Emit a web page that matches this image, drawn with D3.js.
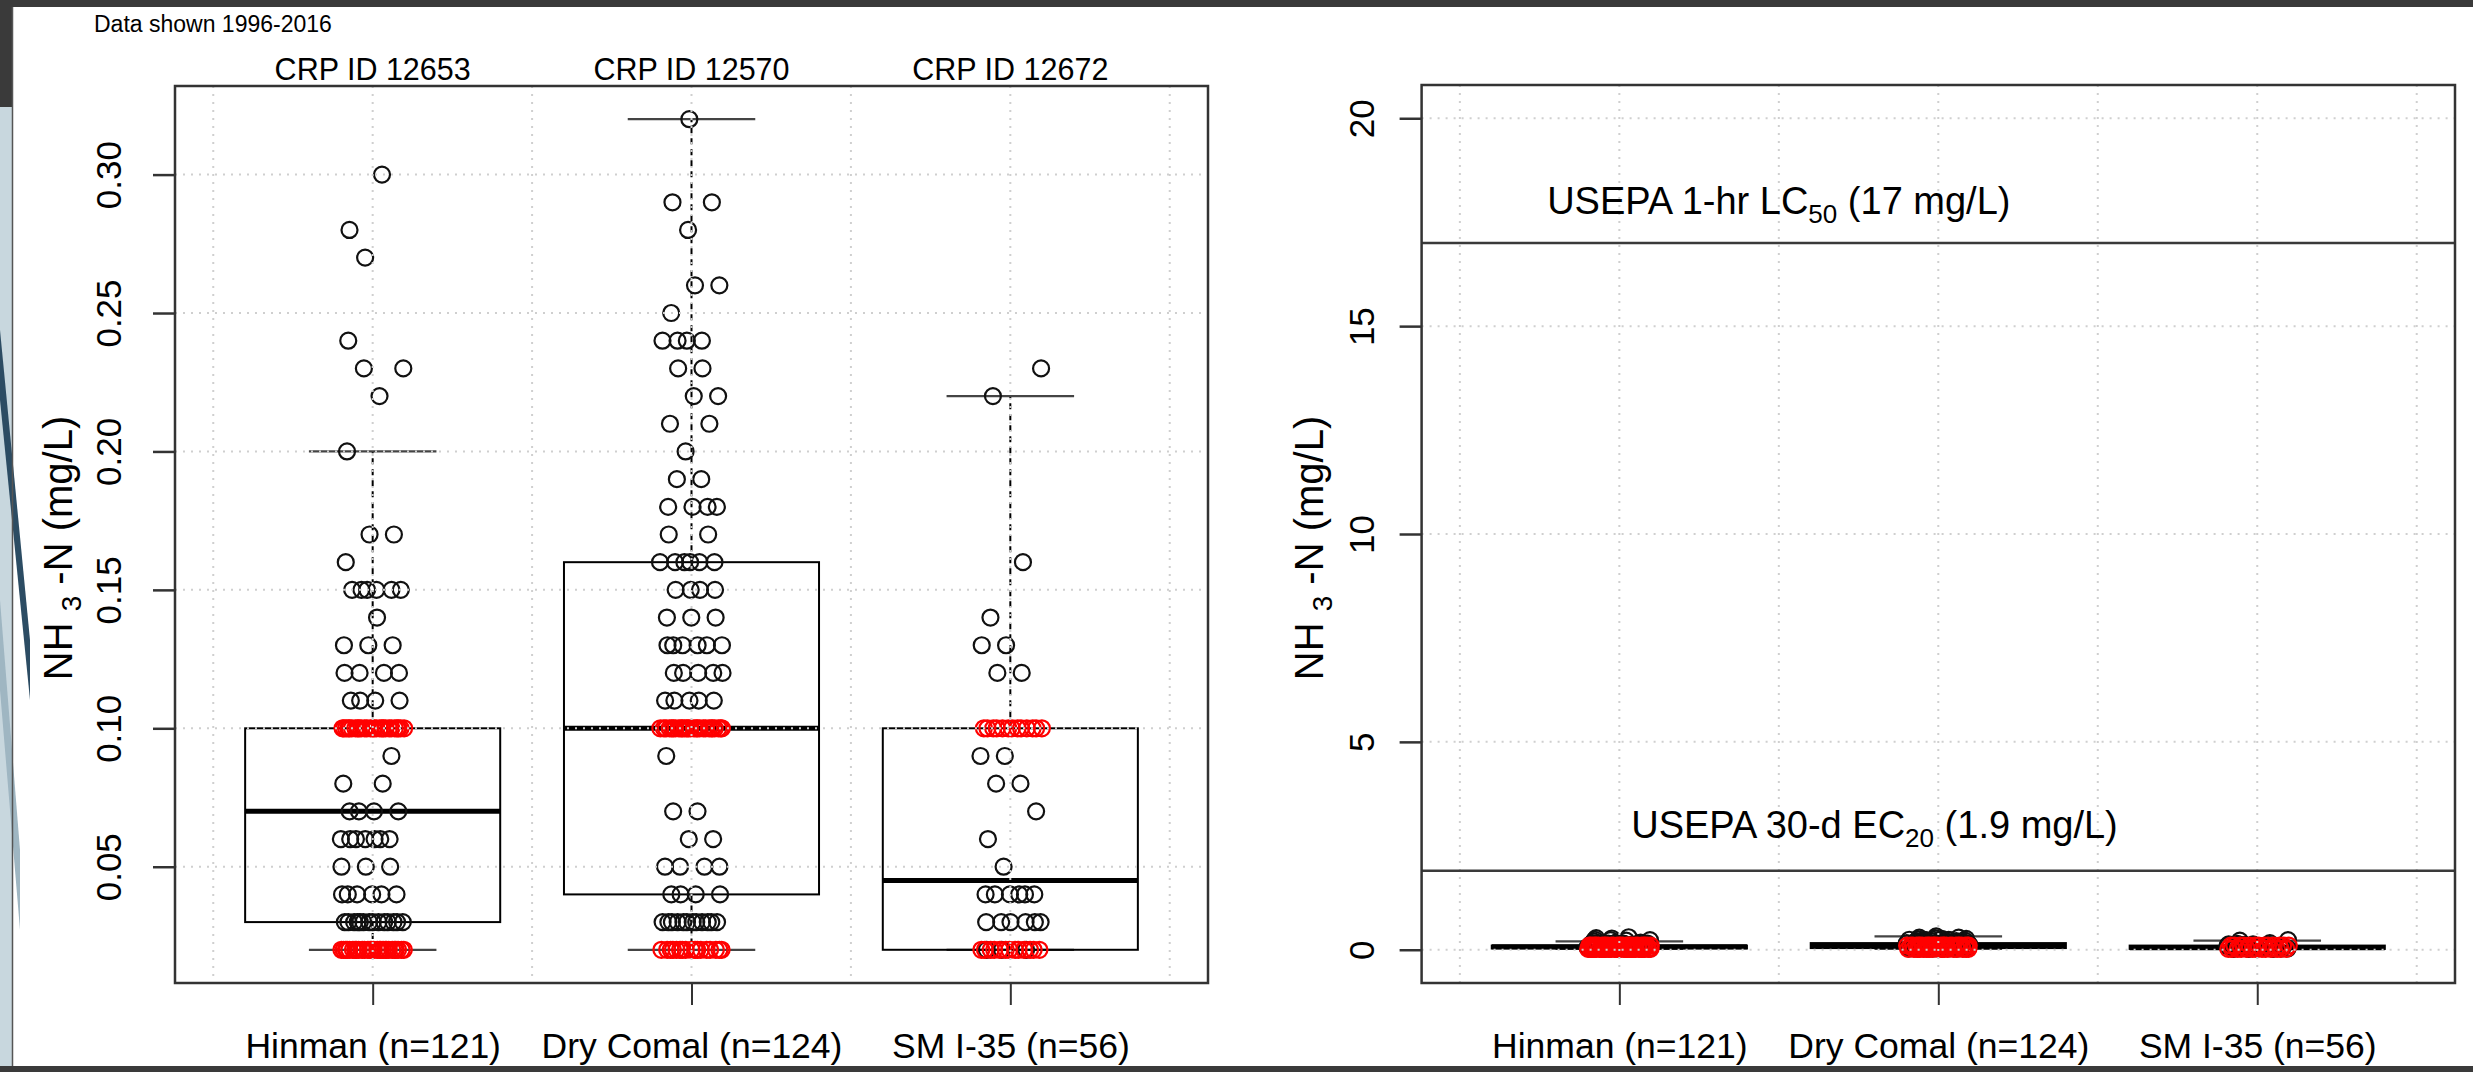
<!DOCTYPE html>
<meta charset="utf-8">
<head>
<script src="https://cdn.jsdelivr.net/npm/d3@7"></script>
<style>
  body { margin: 0; background: #fff; }
  svg text { font-family: "Liberation Sans", Arial, sans-serif; fill: #000; }
</style>
</head>
<body>
<div id="chart"></div>
<script>

// ---- data ----
var sites = ["Hinman (n=121)", "Dry Comal (n=124)", "SM I-35 (n=56)"];
var crpIds = ["CRP ID 12653", "CRP ID 12570", "CRP ID 12672"];

// [value mg/L, count] ; black = measured, red = at reporting limit
var hinmanBlack = [[0.03,14],[0.04,6],[0.05,3],[0.06,7],[0.07,4],[0.08,2],[0.09,1],
  [0.11,4],[0.12,4],[0.13,3],[0.14,1],[0.15,6],[0.16,1],[0.17,2],[0.20,1],[0.22,1],
  [0.23,2],[0.24,1],[0.27,1],[0.28,1],[0.30,1]];
var hinmanRed = [[0.02,28],[0.10,27]];

var dryComalBlack = [[0.03,12],[0.04,4],[0.05,4],[0.06,2],[0.07,2],[0.09,1],
  [0.11,5],[0.12,5],[0.13,6],[0.14,3],[0.15,4],[0.16,6],[0.17,2],[0.18,4],[0.19,2],
  [0.20,1],[0.21,2],[0.22,2],[0.23,2],[0.24,4],[0.25,1],[0.26,2],[0.28,1],[0.29,2],[0.32,1]];
var dryComalRed = [[0.02,17],[0.10,27]];

var smBlack = [[0.02,3],[0.03,6],[0.04,6],[0.05,1],[0.06,1],[0.07,1],[0.08,2],[0.09,2],
  [0.12,2],[0.13,2],[0.14,1],[0.16,1],[0.22,1],[0.23,1]];
var smRed = [[0.02,13],[0.10,13]];

var leftTicks = [0.05, 0.10, 0.15, 0.20, 0.25, 0.30];
var rightTicks = [0, 5, 10, 15, 20];
var refLines = [17, 1.9];

// ---- layout ----
var W = 2473, H = 1072;
var groups = [
  {black: hinmanBlack, red: hinmanRed},
  {black: dryComalBlack, red: dryComalRed},
  {black: smBlack, red: smRed}
];

function expand(pairs) {
  var out = [];
  pairs.forEach(function(p) { for (var i = 0; i < p[1]; i++) out.push(p[0]); });
  return out;
}

// Tukey five-number summary as R's boxplot uses it
function fivenum(x) {
  var s = x.slice().sort(d3.ascending), n = s.length;
  var n4 = Math.floor((n + 3) / 2) / 2;
  return [1, n4, (n + 1) / 2, n + 1 - n4, n].map(function(v) {
    return 0.5 * (s[Math.floor(v) - 1] + s[Math.ceil(v) - 1]);
  });
}

groups.forEach(function(g, i) {
  g.pos = i + 1;
  g.all = expand(g.black).concat(expand(g.red));
  var f = fivenum(g.all);
  var iqr = f[3] - f[1];
  g.q1 = f[1]; g.med = f[2]; g.q3 = f[3];
  g.lo = d3.min(g.all.filter(function(v) { return v >= f[1] - 1.5 * iqr; }));
  g.hi = d3.max(g.all.filter(function(v) { return v <= f[3] + 1.5 * iqr; }));
  // points spread around the box centre: fixed golden-ratio steps within each row
  g.pts = [];
  function addRow(pairs, red) {
    pairs.forEach(function(p) {
      var seed = (Math.round(p[0] * 100) * 0.7548776 + i * 0.31 + (red ? 0.5 : 0)) % 1;
      for (var k = 0; k < p[1]; k++) {
        var fr = (seed + k * 0.6180339887) % 1;
        g.pts.push({v: p[0], red: red, dx: (fr * 2 - 1) * 0.1});
      }
    });
  }
  addRow(g.black, false);
  addRow(g.red, true);
});

var svg = d3.select("#chart").append("svg")
  .attr("width", W)
  .attr("height", H);

svg.append("rect").attr("width", W).attr("height", H).attr("fill", "#fff");

// slide frame around the picture
var frame = svg.append("g");
frame.append("rect").attr("x", 0).attr("y", 0).attr("width", 12).attr("height", H).attr("fill", "#c8d7de");
frame.append("path").attr("d", "M0,330 L30,640 L30,700 L0,400Z").attr("fill", "#2c4c63");
frame.append("path").attr("d", "M0,600 L20,850 L20,930 L0,690Z").attr("fill", "#9fb6c2");
frame.append("rect").attr("x", 0).attr("y", 0).attr("width", 12).attr("height", 107).attr("fill", "#3a3a3a");
frame.append("rect").attr("x", 0).attr("y", 0).attr("width", W).attr("height", 7).attr("fill", "#3a3a3a");
frame.append("rect").attr("x", 0).attr("y", 1066).attr("width", W).attr("height", 6).attr("fill", "#3a3a3a");
frame.append("line").attr("x1", 12.5).attr("x2", 12.5).attr("y1", 7).attr("y2", 1066)
  .attr("stroke", "#555").attr("stroke-width", 1.5);

function drawPanel(cfg) {
  var x = d3.scaleLinear().domain([0.38, 3.62]).range([cfg.x0, cfg.x1]);
  var y = d3.scaleLinear().domain(cfg.domain).range([cfg.y1, cfg.y0]);
  var g = svg.append("g");
  var bw = x(0.4) - x(0);

  var box = g.selectAll(".box").data(groups).enter().append("g");
  // whiskers
  box.append("line")
    .attr("x1", function(d) { return x(d.pos); }).attr("x2", function(d) { return x(d.pos); })
    .attr("y1", function(d) { return y(d.q3); }).attr("y2", function(d) { return y(d.hi); })
    .attr("stroke", "#000").attr("stroke-width", 2).attr("stroke-dasharray", "6,5");
  box.append("line")
    .attr("x1", function(d) { return x(d.pos); }).attr("x2", function(d) { return x(d.pos); })
    .attr("y1", function(d) { return y(d.q1); }).attr("y2", function(d) { return y(d.lo); })
    .attr("stroke", "#000").attr("stroke-width", 2).attr("stroke-dasharray", "6,5");
  // staples
  ["hi", "lo"].forEach(function(key) {
    box.append("line")
      .attr("x1", function(d) { return x(d.pos - 0.2); }).attr("x2", function(d) { return x(d.pos + 0.2); })
      .attr("y1", function(d) { return y(d[key]); }).attr("y2", function(d) { return y(d[key]); })
      .attr("stroke", "#444").attr("stroke-width", 2.2);
  });
  box.append("rect")
    .attr("x", function(d) { return x(d.pos - 0.4); })
    .attr("width", bw * 2)
    .attr("y", function(d) { return y(d.q3); })
    .attr("height", function(d) { return y(d.q1) - y(d.q3); })
    .attr("fill", "none").attr("stroke", "#000").attr("stroke-width", 2);
  box.append("line")
    .attr("x1", function(d) { return x(d.pos - 0.4); }).attr("x2", function(d) { return x(d.pos + 0.4); })
    .attr("y1", function(d) { return y(d.med); }).attr("y2", function(d) { return y(d.med); })
    .attr("stroke", "#000").attr("stroke-width", 5);

  // points: black first, red on top
  box.each(function(d) {
    var pg = d3.select(this);
    pg.selectAll("circle").data(d.pts)
      .enter().append("circle")
      .attr("cx", function(p) { return x(d.pos + p.dx); })
      .attr("cy", function(p) { return y(p.v); })
      .attr("r", 8)
      .attr("fill", "none")
      .attr("stroke", function(p) { return p.red ? "#ff0000" : "#111"; })
      .attr("stroke-width", 2.2);
  });

  // grid on top, like R's grid() after the plot
  var grid = g.append("g").attr("stroke", "#cfcfcf").attr("stroke-width", 2).attr("stroke-dasharray", "2,6");
  grid.selectAll(".gv").data([0.5, 1, 1.5, 2, 2.5, 3, 3.5]).enter().append("line")
    .attr("x1", x).attr("x2", x).attr("y1", cfg.y0).attr("y2", cfg.y1);
  grid.selectAll(".gh").data(cfg.ticks).enter().append("line")
    .attr("x1", cfg.x0).attr("x2", cfg.x1).attr("y1", y).attr("y2", y);

  // reference lines
  if (cfg.refs) {
    g.selectAll(".ref").data(cfg.refs).enter().append("line")
      .attr("x1", cfg.x0).attr("x2", cfg.x1)
      .attr("y1", y).attr("y2", y)
      .attr("stroke", "#3a3a3a").attr("stroke-width", 2.5);
  }

  g.append("rect")
    .attr("x", cfg.x0).attr("y", cfg.y0)
    .attr("width", cfg.x1 - cfg.x0).attr("height", cfg.y1 - cfg.y0)
    .attr("fill", "none").attr("stroke", "#333").attr("stroke-width", 2.5);

  // y axis
  var ya = g.append("g")
    .attr("transform", "translate(" + cfg.x0 + ",0)")
    .call(d3.axisLeft(y).tickValues(cfg.ticks).tickSize(22).tickFormat(d3.format(cfg.fmt)));
  ya.select(".domain").remove();
  ya.selectAll(".tick line").attr("stroke", "#333").attr("stroke-width", 2.5);
  ya.selectAll(".tick text")
    .attr("transform", "rotate(-90)")
    .attr("x", 0).attr("y", -cfg.labOff).attr("dy", null)
    .attr("text-anchor", "middle")
    .style("font-size", "35px").style("font-family", null).attr("fill", "#000");

  // x axis
  var xa = g.append("g")
    .attr("transform", "translate(0," + cfg.y1 + ")")
    .call(d3.axisBottom(x).tickValues([1, 2, 3]).tickSize(22).tickFormat(function(d) { return sites[d - 1]; }));
  xa.select(".domain").remove();
  xa.selectAll(".tick line").attr("stroke", "#333").attr("stroke-width", 2);
  xa.selectAll(".tick text")
    .attr("y", 75).attr("dy", null)
    .style("font-size", "35.5px").style("font-family", null).attr("fill", "#000");

  // y label
  var yl = g.append("text")
    .attr("transform", "translate(" + cfg.ylabX + ",548) rotate(-90)")
    .attr("text-anchor", "middle")
    .style("font-size", "40px");
  yl.append("tspan").text("NH ");
  yl.append("tspan").attr("dy", 9).style("font-size", "28px").text("3");
  yl.append("tspan").attr("dy", -9).text(" -N (mg/L)");

  return {x: x, y: y, g: g};
}

var left = drawPanel({x0: 175, x1: 1208, y0: 86, y1: 983, domain: [0.008, 0.332],
  ticks: leftTicks, fmt: ".2f", labOff: 54, ylabX: 72});
var right = drawPanel({x0: 1421.6, x1: 2455, y0: 85, y1: 983, domain: [-0.8, 20.8],
  ticks: rightTicks, fmt: "d", labOff: 48, ylabX: 1323, refs: refLines});

// titles above the left boxes
left.g.selectAll(".crp").data(crpIds).enter().append("text")
  .attr("x", function(d, i) { return left.x(i + 1); })
  .attr("y", 80)
  .attr("text-anchor", "middle")
  .style("font-size", "30.5px")
  .text(function(d) { return d; });

svg.append("text").attr("x", 94).attr("y", 32).style("font-size", "23px").text("Data shown 1996-2016");

// criteria labels
function critLabel(xv, yv, a, sub, b) {
  var t = right.g.append("text")
    .attr("x", right.x(xv)).attr("y", right.y(yv) + 13)
    .attr("text-anchor", "middle")
    .style("font-size", "38px");
  t.append("tspan").text(a);
  t.append("tspan").attr("dy", 9).style("font-size", "26px").text(sub);
  t.append("tspan").attr("dy", -9).text(b);
}
critLabel(1.5, 18, "USEPA 1-hr LC", "50", " (17 mg/L)");
critLabel(1.8, 3, "USEPA 30-d EC", "20", " (1.9 mg/L)");

</script>
</body>
